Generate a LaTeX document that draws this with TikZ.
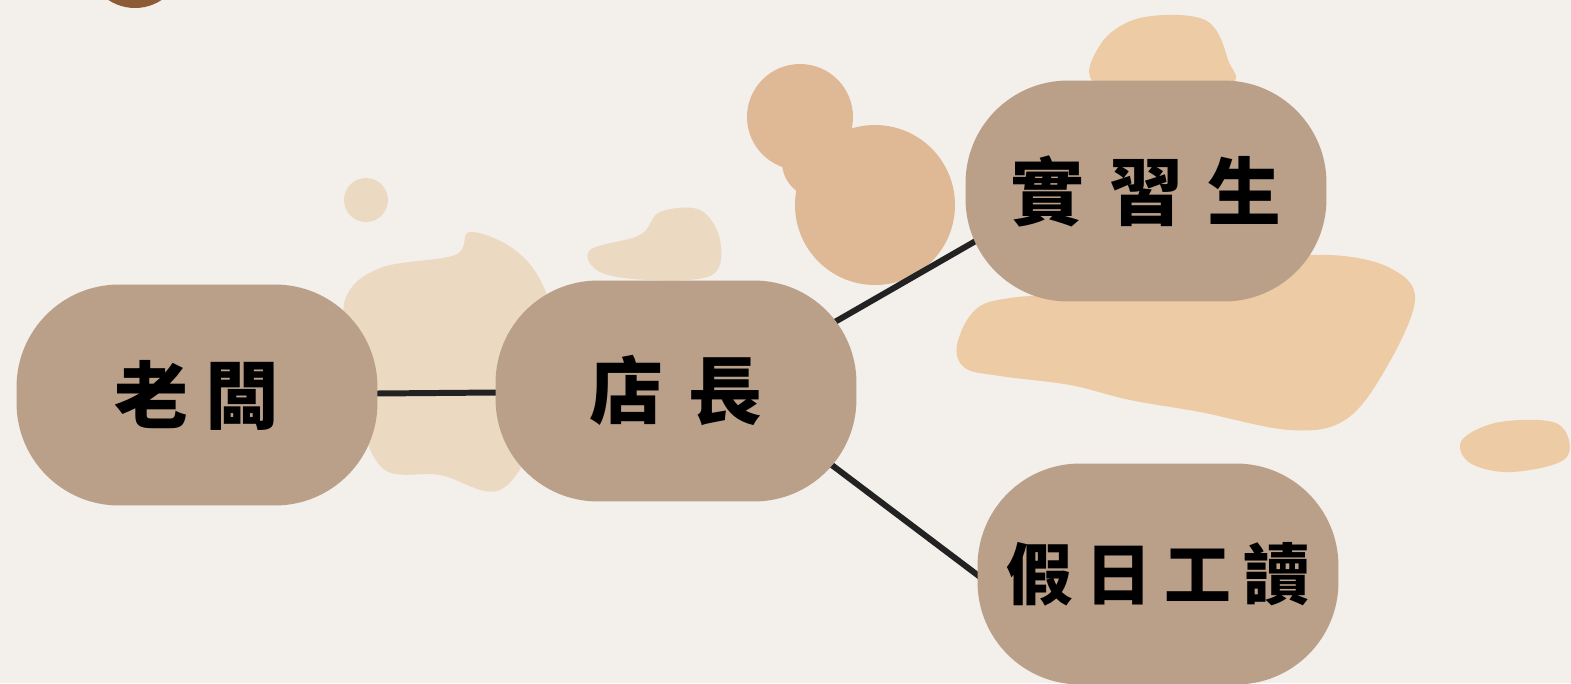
\documentclass[tikz,border=0pt]{standalone}
\usepackage{fontspec}
\usetikzlibrary{calc}
\newfontfamily\cjk{Noto Sans CJK TC}
\definecolor{paper}{RGB}{243,239,235}
\definecolor{pill}{RGB}{187,160,137}
\definecolor{stainlight}{RGB}{235,218,193}
\definecolor{stainmid}{RGB}{223,185,150}
\definecolor{stainorange}{RGB}{237,203,164}
\definecolor{cup}{RGB}{140,90,52}
\definecolor{wire}{RGB}{34,34,34}
\tikzstyle{n1} = [rectangle, rounded corners=2.05cm, fill=pill, minimum width=7.22cm, minimum height=4.42cm, inner sep=0pt, font=\cjk\bfseries\fontsize{42}{42}\selectfont]
\tikzstyle{stain} = [draw=none]
\tikzstyle{link} = [draw=wire, line width=3.4pt]
\pgfdeclarelayer{paper}
\pgfdeclarelayer{links}
\pgfsetlayers{paper,links,main}

\begin{document}
\begin{tikzpicture}[x=0.02cm, y=-0.02cm]
    \useasboundingbox (0, 0) rectangle (1571, 683);
    \node[n1] (N1) at (197, 395) {老\kern10pt 闆};
    \node[n1] (N2) at (676, 391) {店\kern14pt 長};
    \node[n1] (N31) at (1146, 191) {實\kern14pt 習\kern14pt 生};
    \node[n1, font=\cjk\bfseries\fontsize{38}{38}\selectfont] (N32) at (1158, 574) {假\kern7pt 日\kern7pt 工\kern7pt 讀};
    \begin{pgfonlayer}{links}
      \draw[link] (N1.center) -- (N2.center);
      \draw[link] ($(N2.center)+(124,-49)$) -- ($(N31.center)+(-146,36)$);
      \draw[link] ($(N2.center)+(124,50)$) -- ($(N32.center)+(-158,18)$);
    \end{pgfonlayer}
    % paper and coffee stains
    \begin{pgfonlayer}{paper}
      \fill[paper] (0, 0) rectangle (1571, 683);
      \begin{scope}
        \clip (0, 0) rectangle (1571, 683);
        \fill[cup] (135, -40) circle (48);
      \end{scope}
      \fill[stain, stainlight] plot[smooth cycle, tension=0.6] coordinates {(345,300) (380,268) (455,255) (470,232) (515,250) (545,290) (560,360) (540,430) (500,490) (440,475) (385,470) (360,420) (350,360)};
      \fill[stain, stainlight] (366, 200) circle (22);
      \fill[stain, stainlight] plot[smooth cycle, tension=0.6] coordinates {(590,250) (640,235) (660,212) (700,210) (720,240) (712,275) (650,280) (600,272)};
      \fill[stain, stainmid] (800, 117) circle (53);
      \fill[stain, stainmid] (818, 162) circle (36);
      \fill[stain, stainmid] (875, 205) circle (80);
      \fill[stain, stainorange] plot[smooth cycle, tension=0.6] coordinates {(1100,45) (1140,18) (1205,20) (1228,60) (1225,85) (1100,85)};
      \fill[stain, stainorange] plot[smooth cycle, tension=0.6] coordinates {(957,345) (975,310) (1010,298) (1100,290) (1250,262) (1330,255) (1390,268) (1415,300) (1385,370) (1345,420) (1290,430) (1200,412) (1130,400) (1070,385) (1000,376) (965,368)};
      \fill[stain, stainorange] plot[smooth cycle, tension=0.6] coordinates {(1462,440) (1500,422) (1558,424) (1566,458) (1512,472) (1470,463)};
    \end{pgfonlayer}
  \end{tikzpicture}
\end{document}
